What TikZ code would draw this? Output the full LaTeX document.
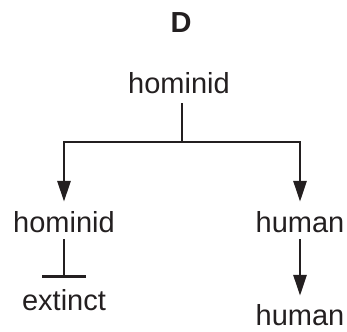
\documentclass[tikz,border=0pt]{standalone}
\usepackage{fontspec}
\setmainfont{Liberation Sans}
\usetikzlibrary{arrows.meta}
\definecolor{ink}{HTML}{231F20}
\begin{document}
\begin{tikzpicture}[x=1pt,y=-1pt,
    taxon/.style={font=\fontsize{29}{31}\selectfont,inner sep=0pt,anchor=base,text=ink},
    link/.style={draw=ink,line width=2.8pt},
    tip/.style={-{Triangle[length=21pt,width=13pt]}}]
  \useasboundingbox (0,0) rectangle (347,331);
  \node[taxon,font=\fontsize{29}{31}\selectfont\bfseries] (title) at (181,33) {D};
  \node[taxon] (root) at (179,94) {hominid};
  \node[taxon] (left) at (64,232) {hominid};
  \node[taxon] (right) at (300,232) {human};
  \node[taxon] (dead) at (64,310) {extinct};
  \node[taxon] (now) at (300,325) {human};
  \coordinate (fork) at (182,142);
  \draw[link,shorten <=9pt] (root.south -| fork) -- (fork);
  \draw[link,tip,shorten >=9pt] (fork) -| (left.north);
  \draw[link,tip,shorten >=9pt] (fork) -| (right.north);
  \draw[link,-{Bar[width=44pt]},shorten <=7pt,shorten >=11pt] (left.south) -- (dead.north);
  \draw[link,tip,shorten <=7pt,shorten >=8pt] (right.south) -- (now.north);
\end{tikzpicture}
\end{document}
